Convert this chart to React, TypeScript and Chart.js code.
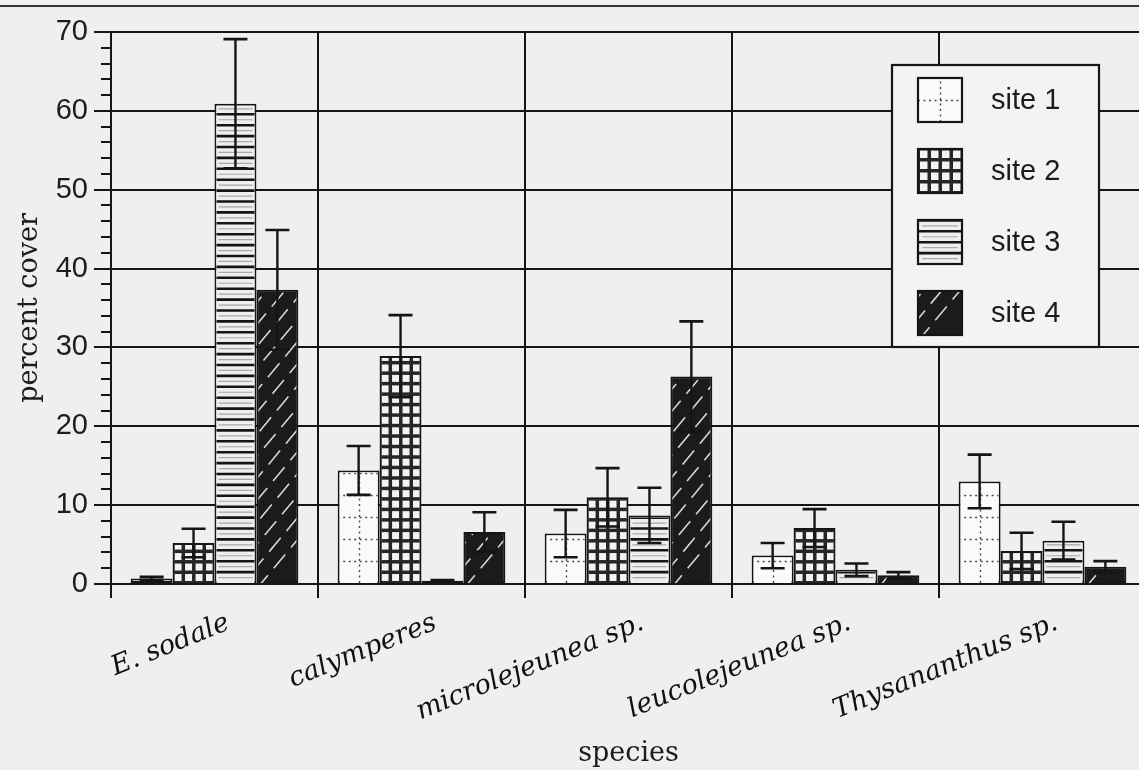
import React, { useEffect, useRef } from "react";
import { Chart, registerables } from "chart.js";

Chart.register(...registerables);

// ---- data ----
const categories = ["E. sodale", "calymperes", "microlejeunea sp.", "leucolejeunea sp.", "Thysananthus sp."];
const siteLabels = ["site 1", "site 2", "site 3", "site 4"];
const site1Values = [0.7, 14.4, 6.4, 3.6, 13.0];
const site1Errors = [0.2, 3.1, 3.0, 1.6, 3.4];
const site2Values = [5.2, 28.9, 11.0, 7.1, 4.2];
const site2Errors = [1.8, 5.2, 3.7, 2.4, 2.3];
const site3Values = [60.9, 0.4, 8.7, 1.8, 5.5];
const site3Errors = [8.2, 0.1, 3.5, 0.8, 2.4];
const site4Values = [37.3, 6.6, 26.3, 1.1, 2.2];
const site4Errors = [7.6, 2.5, 7.0, 0.4, 0.7];
const yMin = 0;
const yMax = 70;
const yStep = 10;
const yMinorStep = 2;
const yAxisTitle = "percent cover";
const xAxisTitle = "species";

const seriesValues = [site1Values, site2Values, site3Values, site4Values];
const seriesErrors = [site1Errors, site2Errors, site3Errors, site4Errors];

// ---- style ----
const SERIF = "'DejaVu Serif', 'Liberation Serif', serif";
const SANS = "'Liberation Sans', Arial, sans-serif";
const INK = "#151515";
const TEXT = "#1c1c1c";
const BG = "#efefef";
const CANVAS_W = 1160;
const CANVAS_H = 770;
const PAD_LEFT = 6;
const PAD_RIGHT = 14;
const PAD_TOP = 32;
const PAD_BOTTOM = 0;
const AXIS_LEFT = 111;
const AXIS_BOTTOM = 584;
const baseFills = ["#fafafa", "#262626", "#f1f1f1", "#1b1b1b"];

function drawPattern(ctx: CanvasRenderingContext2D, kind: number, left: number, top: number, w: number, h: number, inset: number) {
  ctx.save();
  ctx.beginPath();
  ctx.rect(left + inset, top + inset, w - 2 * inset, h - inset);
  ctx.clip();
  const bottom = top + h;
  if (kind === 0) {
    ctx.fillStyle = "#fafafa";
    ctx.fillRect(left, top, w, h);
    ctx.strokeStyle = "#4a4a4a";
    ctx.lineWidth = 1.4;
    ctx.setLineDash([2, 3.5]);
    ctx.beginPath();
    const cx = Math.round(left + w / 2) + 0.5;
    ctx.moveTo(cx, bottom);
    ctx.lineTo(cx, top);
    for (let yy = bottom - 22; yy > top + 2; yy -= 22) {
      ctx.moveTo(left, Math.round(yy) + 0.5);
      ctx.lineTo(left + w, Math.round(yy) + 0.5);
    }
    ctx.stroke();
  } else if (kind === 1) {
    ctx.fillStyle = "#262626";
    ctx.fillRect(left, top, w, h);
    const p = w / 4;
    ctx.fillStyle = "#f3f3f3";
    for (let yy = bottom; yy > top - p; yy -= p) {
      for (let i = 0; i < 4; i++) {
        ctx.fillRect(left + i * p + 2, yy - p + 1.5, p - 3.5, p - 3.5);
      }
    }
  } else if (kind === 2) {
    ctx.fillStyle = "#eeeeee";
    ctx.fillRect(left, top, w, h);
    const p = 10.9;
    ctx.strokeStyle = "#a8a8a8";
    ctx.lineWidth = 1.2;
    ctx.beginPath();
    for (let yy = bottom - p / 2; yy > top; yy -= p) {
      ctx.moveTo(left + 4, yy);
      ctx.lineTo(left + w - 4, yy);
    }
    ctx.stroke();
    ctx.strokeStyle = INK;
    ctx.lineWidth = 2.6;
    ctx.beginPath();
    for (let yy = bottom - p; yy > top; yy -= p) {
      ctx.moveTo(left, yy);
      ctx.lineTo(left + w, yy);
    }
    ctx.stroke();
  } else {
    ctx.fillStyle = "#1b1b1b";
    ctx.fillRect(left, top, w, h);
    ctx.strokeStyle = "#d6d6d6";
    ctx.lineWidth = 1.6;
    const slope = 1.2;
    const sp = 22;
    const n = Math.ceil((h + slope * w) / sp) + 1;
    for (let k = 0; k < n; k++) {
      ctx.setLineDash([18, 9]);
      ctx.lineDashOffset = (k * 7) % 27;
      ctx.beginPath();
      const y0 = bottom - k * sp + 6;
      ctx.moveTo(left, y0);
      ctx.lineTo(left + w, y0 - slope * w);
      ctx.stroke();
    }
  }
  ctx.restore();
}

const decorPlugin = {
  id: "decor",
  beforeDraw(chart: any) {
    const ctx = chart.ctx as CanvasRenderingContext2D;
    ctx.save();
    ctx.fillStyle = BG;
    ctx.fillRect(0, 0, chart.width, chart.height);
    ctx.strokeStyle = "#333";
    ctx.lineWidth = 2;
    ctx.beginPath();
    ctx.moveTo(0, 6);
    ctx.lineTo(chart.width, 6);
    ctx.stroke();
    ctx.restore();
  },
  afterDatasetsDraw(chart: any) {
    const ctx = chart.ctx as CanvasRenderingContext2D;
    const yScale = chart.scales.y;
    chart.data.datasets.forEach((ds: any, di: number) => {
      const meta = chart.getDatasetMeta(di);
      meta.data.forEach((el: any) => {
        const { x, y, base, width } = el.getProps(["x", "y", "base", "width"], true);
        const left = x - width / 2;
        const top = Math.min(y, base);
        const h = Math.abs(base - y);
        if (h > 6) drawPattern(ctx, di, left, top, width, h, 2);
      });
    });
    // error bars
    ctx.save();
    ctx.strokeStyle = INK;
    chart.data.datasets.forEach((ds: any, di: number) => {
      const meta = chart.getDatasetMeta(di);
      const errs = seriesErrors[di];
      meta.data.forEach((el: any, i: number) => {
        const v = ds.data[i];
        const e = errs[i];
        if (!e) return;
        const { x } = el.getProps(["x"], true);
        const yTop = yScale.getPixelForValue(v + e);
        const yBot = yScale.getPixelForValue(Math.max(0, v - e));
        ctx.lineWidth = 2.4;
        ctx.beginPath();
        ctx.moveTo(x, yTop);
        ctx.lineTo(x, yBot);
        ctx.stroke();
        ctx.lineWidth = 2.6;
        ctx.beginPath();
        ctx.moveTo(x - 12, yTop);
        ctx.lineTo(x + 12, yTop);
        ctx.moveTo(x - 12, yBot);
        ctx.lineTo(x + 12, yBot);
        ctx.stroke();
      });
    });
    ctx.restore();
  },
  afterDraw(chart: any) {
    const ctx = chart.ctx as CanvasRenderingContext2D;
    const yScale = chart.scales.y;
    const area = chart.chartArea;
    // minor ticks on y axis
    ctx.save();
    ctx.strokeStyle = INK;
    ctx.lineWidth = 2;
    ctx.beginPath();
    for (let v = yMin; v <= yMax; v += yMinorStep) {
      if (v % yStep === 0) continue;
      const py = Math.round(yScale.getPixelForValue(v));
      ctx.moveTo(area.left - 10, py);
      ctx.lineTo(area.left, py);
    }
    ctx.stroke();
    ctx.restore();

    // legend
    const lx = area.left + 781;
    const ly = 65;
    const lw = 207;
    const lh = 282;
    ctx.save();
    ctx.fillStyle = "#f3f3f3";
    ctx.fillRect(lx, ly, lw, lh);
    ctx.strokeStyle = INK;
    ctx.lineWidth = 2.2;
    ctx.strokeRect(lx, ly, lw, lh);
    chart.data.datasets.forEach((ds: any, di: number) => {
      const sx = lx + 26;
      const sy = ly + 13 + di * 71;
      drawPattern(ctx, di, sx, sy, 44, 44, 0);
      ctx.strokeStyle = INK;
      ctx.lineWidth = 2.2;
      ctx.setLineDash([]);
      ctx.strokeRect(sx, sy, 44, 44);
      ctx.fillStyle = TEXT;
      ctx.font = `29px ${SANS}`;
      ctx.textAlign = "left";
      ctx.textBaseline = "middle";
      ctx.fillText(ds.label, lx + 99, sy + 23);
    });
    ctx.restore();
  },
};

export default function App() {
  const canvasRef = useRef<HTMLCanvasElement | null>(null);

  useEffect(() => {
    const canvas = canvasRef.current;
    if (!canvas) return;
    const chart = new Chart(canvas, {
      type: "bar",
      data: {
        labels: categories,
        datasets: siteLabels.map((label, i) => ({
          label,
          data: seriesValues[i],
          backgroundColor: baseFills[i],
          borderColor: INK,
          borderWidth: 2,
          borderSkipped: false,
          barPercentage: 1.0,
          categoryPercentage: 0.81,
        })),
      },
      options: {
        animation: false,
        responsive: false,
        devicePixelRatio: 1,
        layout: { padding: { left: PAD_LEFT, right: PAD_RIGHT, top: PAD_TOP, bottom: PAD_BOTTOM } },
        plugins: {
          legend: { display: false },
          tooltip: { enabled: false },
          title: { display: false },
        },
        scales: {
          x: {
            type: "category",
            offset: true,
            grid: {
              display: true,
              offset: true,
              color: INK,
              lineWidth: 2,
              tickLength: 14,
              drawTicks: true,
            },
            border: { display: true, color: INK, width: 2 },
            ticks: {
              autoSkip: false,
              minRotation: 22,
              maxRotation: 22,
              labelOffset: 14,
              padding: 9,
              color: "#111",
              font: { family: SERIF, size: 27, style: "italic" },
            },
            title: {
              display: true,
              text: xAxisTitle,
              color: TEXT,
              font: { family: SERIF, size: 27 },
              padding: { top: 0, bottom: 0 },
            },
            afterFit: (scale: any) => {
              scale.height = CANVAS_H - AXIS_BOTTOM - PAD_BOTTOM;
            },
          },
          y: {
            type: "linear",
            min: yMin,
            max: yMax,
            ticks: {
              stepSize: yStep,
              padding: 6,
              color: TEXT,
              font: { family: SANS, size: 29 },
            },
            grid: {
              color: INK,
              lineWidth: 2,
              tickLength: 17,
              drawTicks: true,
            },
            border: { display: true, color: INK, width: 2 },
            title: {
              display: true,
              text: yAxisTitle,
              color: TEXT,
              font: { family: SERIF, size: 27 },
              padding: { top: 8, bottom: 0 },
            },
            afterFit: (scale: any) => {
              scale.width = AXIS_LEFT - PAD_LEFT;
            },
          },
        },
      },
      plugins: [decorPlugin],
    });
    return () => chart.destroy();
  }, []);

  return (
    <div style={{ position: "absolute", left: 0, top: 0, width: 1139, height: 770, overflow: "hidden", background: BG }}>
      <canvas ref={canvasRef} width={CANVAS_W} height={CANVAS_H} style={{ display: "block", width: CANVAS_W, height: CANVAS_H }} />
    </div>
  );
}
